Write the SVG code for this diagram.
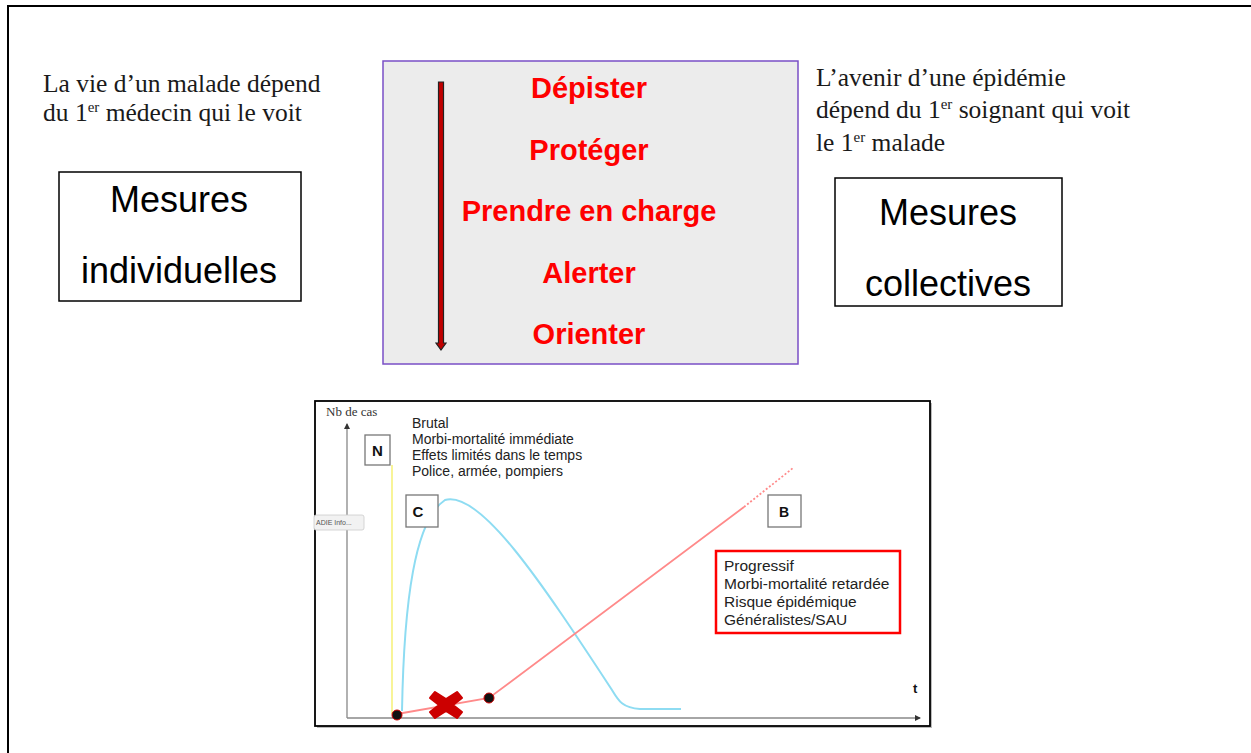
<svg xmlns="http://www.w3.org/2000/svg" width="1251" height="753" viewBox="0 0 1251 753">
<style>
.serif{font-family:"Liberation Serif","Times New Roman",serif;font-size:25.5px;fill:#1a1a1a}
.big{font-family:"Liberation Sans",Arial,sans-serif;font-size:36px;fill:#000;text-anchor:middle}
.red{font-family:"Liberation Sans",Arial,sans-serif;font-size:29px;font-weight:bold;fill:#ff0000;text-anchor:middle}
.small{font-family:"Liberation Sans",Arial,sans-serif;font-size:14px;fill:#222}
.small2{font-family:"Liberation Sans",Arial,sans-serif;font-size:15.5px;fill:#222}
.lbl{font-family:"Liberation Sans",Arial,sans-serif;font-size:15px;font-weight:bold;fill:#111;text-anchor:middle}
.box{fill:#fff;stroke:#000;stroke-width:1.5}
.sbox{fill:#fff;stroke:#777;stroke-width:1.3}
.sup{font-size:15px}
</style>
<defs>
<marker id="ax" markerWidth="6" markerHeight="6" refX="5" refY="3" orient="auto" markerUnits="userSpaceOnUse"><path d="M0,0 L6,3 L0,6 z" fill="#333"/></marker>
</defs>
<rect width="1251" height="753" fill="#fff"/>
<g id="frame"><path d="M8,753 V6 H1251" fill="none" stroke="#000" stroke-width="2"/></g>

<g id="left-text">
<text class="serif" x="43" y="92">La vie d’un malade dépend</text>
<text class="serif" x="43" y="121">du 1<tspan class="sup" dy="-9">er</tspan><tspan dy="9"> médecin qui le voit</tspan></text>
</g>
<g id="mesures-individuelles">
<rect class="box" x="59" y="172" width="242" height="129"/>
<text class="big" x="179" y="212">Mesures</text>
<text class="big" x="179" y="283">individuelles</text>
</g>

<g id="actions">
<rect x="383" y="61" width="415" height="303" fill="#ececec" stroke="#7a4fc6" stroke-width="1.5"/>
<path d="M438.5,82 H443.5 V343 H446 L441,350 L436,343 H438.5 Z" fill="#c00000" stroke="#222" stroke-width="1.2"/>
<text class="red" x="589" y="98">Dépister</text>
<text class="red" x="589" y="160">Protéger</text>
<text class="red" x="589" y="221">Prendre en charge</text>
<text class="red" x="589" y="283">Alerter</text>
<text class="red" x="589" y="344">Orienter</text>
</g>

<g id="right-text">
<text class="serif" x="816" y="86">L’avenir d’une épidémie</text>
<text class="serif" x="816" y="118">dépend du 1<tspan class="sup" dy="-9">er</tspan><tspan dy="9"> soignant qui voit</tspan></text>
<text class="serif" x="816" y="151">le 1<tspan class="sup" dy="-9">er</tspan><tspan dy="9"> malade</tspan></text>
</g>
<g id="mesures-collectives">
<rect class="box" x="835" y="178" width="227" height="128"/>
<text class="big" x="948" y="225">Mesures</text>
<text class="big" x="948" y="296">collectives</text>
</g>

<g id="chart">
<rect x="317" y="403" width="615" height="325" fill="#bbb"/>
<rect x="315" y="401" width="615" height="325" fill="#fff" stroke="#000" stroke-width="1.8"/>
<g id="axes" stroke="#888" stroke-width="1.3" fill="none">
<line x1="347" y1="718" x2="347" y2="424" marker-end="url(#ax)"/>
<line x1="347" y1="718" x2="920" y2="718" marker-end="url(#ax)"/>
</g>
<text x="326" y="416" style="font-family:'Liberation Serif',serif;font-size:13px;fill:#333">Nb de cas</text>
<text class="small" x="412" y="428">Brutal</text>
<text class="small" x="412" y="444">Morbi-mortalité immédiate</text>
<text class="small" x="412" y="460">Effets limités dans le temps</text>
<text class="small" x="412" y="476">Police, armée, pompiers</text>
<text x="913" y="693" style="font-family:'Liberation Sans',Arial,sans-serif;font-size:13px;font-weight:bold;fill:#111">t</text>

<line x1="392" y1="465" x2="392" y2="714" stroke="#f5ee60" stroke-width="1.3"/>
<path d="M402,711 C404,600 415,520 445,500 C480,490 540,580 612,690 C618,700 622,708 640,709 L681,709" fill="none" stroke="#8edcf2" stroke-width="2"/>
<g fill="none" stroke="#ff8a8a" stroke-width="1.8">
<path d="M397,714 L489,698 L744,507"/>
<path d="M744,507 L793,468" stroke-dasharray="2,2"/>
</g>
<circle cx="397" cy="715" r="5" fill="#111" stroke="#c00" stroke-width="1"/>
<circle cx="489" cy="698" r="5" fill="#111" stroke="#c00" stroke-width="1"/>
<path d="M435,692 L446,699 L457,692 L462,698 L453,705 L462,712 L457,718 L446,711 L435,718 L430,712 L439,705 L430,698 Z" fill="#cc0000" stroke="#cc0000" stroke-width="2" stroke-linejoin="round"/>

<g id="N"><rect class="sbox" x="365" y="435" width="25" height="30"/><text class="lbl" x="377.5" y="456">N</text></g>
<g id="C"><rect class="sbox" x="406" y="495" width="32" height="32"/><text class="lbl" x="418" y="517">C</text></g>
<g id="B"><rect class="sbox" x="768" y="495" width="33" height="32"/><text class="lbl" x="784" y="517" style="font-size:14px">B</text></g>

<g id="tooltip">
<rect x="314" y="515" width="50" height="15" rx="2" fill="#f2f2f2" stroke="#ccc" stroke-width="0.8"/>
<text x="316" y="525" style="font-family:'Liberation Sans',Arial,sans-serif;font-size:7px;fill:#555">ADIE Info...</text>
</g>

<g id="progressif">
<rect x="716" y="551" width="184" height="82" fill="#fff" stroke="#ff0000" stroke-width="2.5"/>
<text class="small2" x="724" y="571">Progressif</text>
<text class="small2" x="724" y="589">Morbi-mortalité retardée</text>
<text class="small2" x="724" y="607">Risque épidémique</text>
<text class="small2" x="724" y="625">Généralistes/SAU</text>
</g>
</g>
</svg>
